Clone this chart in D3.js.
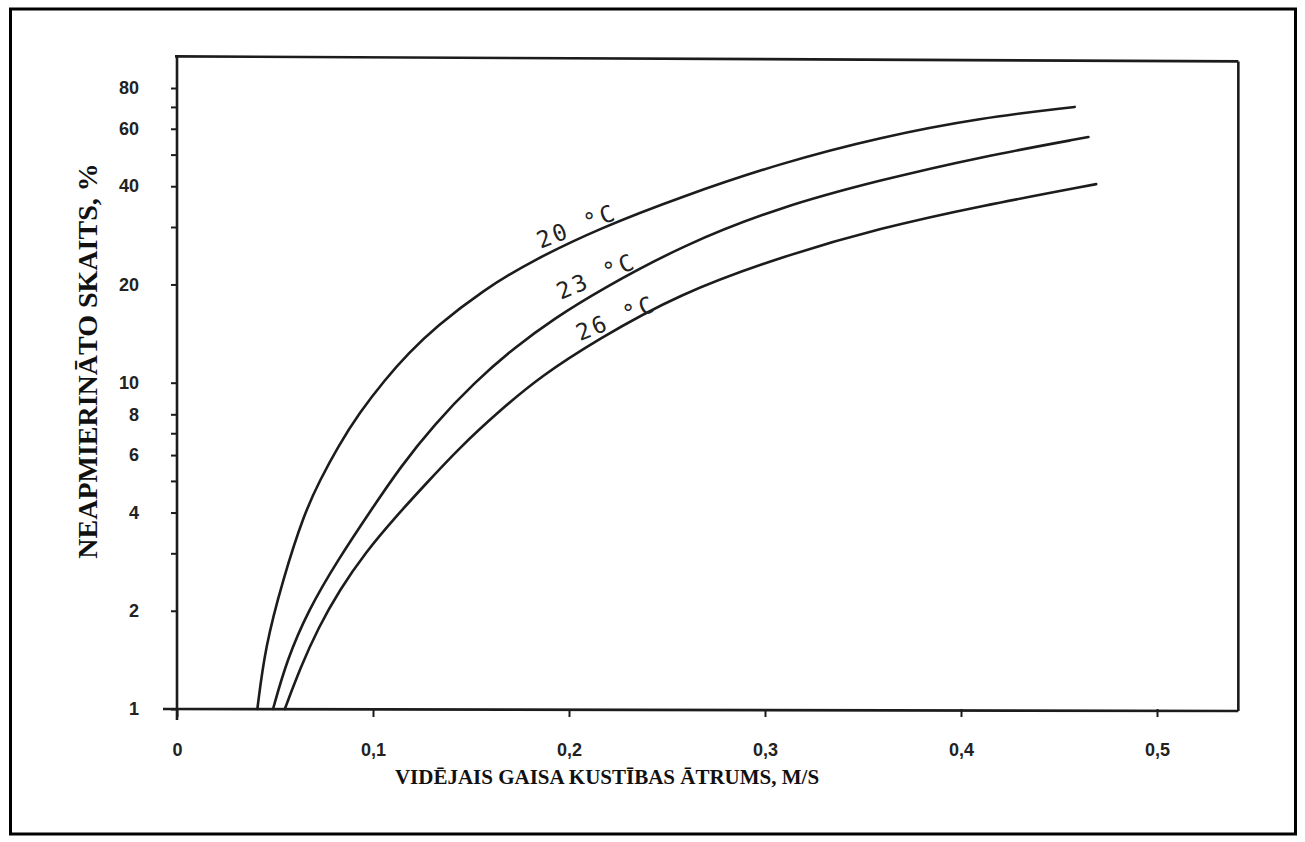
<!DOCTYPE html>
<html>
<head>
<meta charset="utf-8">
<script src="https://cdn.jsdelivr.net/npm/d3@7"></script>
<style>
  body { margin: 0; background: #fff; }
  svg { display: block; }
</style>
</head>
<body>
<svg id="chart" width="1305" height="842"></svg>
<script>
// Share of dissatisfied occupants (%) against mean air speed (m/s),
// one curve per room air temperature.
const speed20 = [0.041, 0.045, 0.054, 0.065, 0.073, 0.082, 0.093, 0.106, 0.118, 0.132, 0.156, 0.182, 0.216, 0.257, 0.308, 0.359, 0.410, 0.458];
const share20 = [1.00, 1.55, 2.49, 3.99, 5.03, 6.35, 8.08, 10.2, 12.3, 14.8, 19.2, 23.8, 29.8, 37.1, 47.1, 56.6, 64.8, 70.0];

const speed23 = [0.049, 0.056, 0.067, 0.082, 0.099, 0.114, 0.131, 0.152, 0.172, 0.193, 0.215, 0.258, 0.308, 0.359, 0.410, 0.465];
const share23 = [1.00, 1.41, 2.01, 2.86, 4.07, 5.52, 7.42, 10.05, 12.8, 15.8, 19.1, 26.4, 34.6, 41.8, 49.2, 56.6];

const speed26 = [0.055, 0.063, 0.072, 0.083, 0.096, 0.111, 0.127, 0.144, 0.165, 0.186, 0.214, 0.256, 0.308, 0.359, 0.410, 0.469];
const share26 = [1.00, 1.34, 1.77, 2.32, 3.01, 3.85, 4.90, 6.31, 8.25, 10.5, 13.5, 18.7, 24.3, 29.8, 34.8, 40.6];

const curveNames = ["20 °C", "23 °C", "26 °C"];

const xTickValues = [0, 0.1, 0.2, 0.3, 0.4, 0.5];
const yTickValues = [1, 2, 3, 4, 5, 6, 7, 8, 10, 20, 30, 40, 50, 60, 70, 80];
const yTickLabels = [1, 2, 4, 6, 8, 10, 20, 40, 60, 80];

const xTitle = "VIDĒJAIS GAISA KUSTĪBAS ĀTRUMS, M/S";
const yTitle = "NEAPMIERINĀTO SKAITS, %";

// ---- layout ----
const svg = d3.select("#chart");
const ink = "#1c1c1c";

svg.append("rect")
  .attr("x", 10.5).attr("y", 9).attr("width", 1285).attr("height", 825)
  .attr("fill", "#fff").attr("stroke", "#000").attr("stroke-width", 3);

const x = d3.scaleLinear().domain([0, 0.5]).range([177, 1157]);
const y = d3.scaleLog().domain([1, 80]).range([709, 88]);

const xRight = x(0.5415);
const yTop = y(100);

// plot frame
const frame = svg.append("g").attr("stroke", ink).attr("stroke-width", 2.6).attr("fill", "none");
frame.append("line").attr("x1", x(0)).attr("y1", yTop).attr("x2", x(0)).attr("y2", y(1) + 11);
frame.append("line").attr("x1", x(0) - 14).attr("y1", y(1)).attr("x2", xRight).attr("y2", y(1) + 2);
frame.append("line").attr("x1", x(0) - 2).attr("y1", yTop).attr("x2", xRight).attr("y2", yTop + 5);
frame.append("line").attr("x1", xRight).attr("y1", yTop + 5).attr("x2", xRight).attr("y2", y(1) + 2);

const tickFont = sel => sel
  .attr("fill", "#222")
  .style("font-family", "'Liberation Sans', Arial, sans-serif")
  .style("font-weight", "bold")
  .style("font-size", "18px");

// y axis
const yAxis = d3.axisLeft(y)
  .tickValues(yTickValues)
  .tickSize(6)
  .tickPadding(32)
  .tickFormat(d => yTickLabels.includes(d) ? String(d) : "");
const gy = svg.append("g").attr("transform", `translate(${x(0)},0)`).call(yAxis);
gy.select(".domain").remove();
gy.selectAll(".tick line").attr("stroke", ink).attr("stroke-width", 2);
gy.selectAll(".tick text").call(tickFont);

// x axis
const xAxis = d3.axisBottom(x)
  .tickValues(xTickValues)
  .tickSize(8)
  .tickFormat(d => d === 0 ? "0" : d3.format(".1f")(d).replace(".", ","));
const gx = svg.append("g").attr("transform", `translate(0,${y(1)})`).call(xAxis);
gx.select(".domain").remove();
gx.selectAll(".tick line").attr("stroke", ink).attr("stroke-width", 2);
gx.selectAll(".tick text").attr("y", 41).attr("dy", "0.35em").call(tickFont);

// axis titles
svg.append("text")
  .attr("x", 607).attr("y", 784)
  .attr("text-anchor", "middle")
  .attr("fill", "#111")
  .style("font-family", "'Liberation Serif', 'Times New Roman', serif")
  .style("font-weight", "bold")
  .style("font-size", "21px")
  .text(xTitle);

svg.append("text")
  .attr("transform", "translate(97,361) rotate(-90)")
  .attr("text-anchor", "middle")
  .attr("fill", "#111")
  .style("font-family", "'Liberation Serif', 'Times New Roman', serif")
  .style("font-weight", "bold")
  .style("font-size", "28px")
  .text(yTitle);

// curves
const series = [
  { name: curveNames[0], pts: d3.zip(speed20, share20) },
  { name: curveNames[1], pts: d3.zip(speed23, share23) },
  { name: curveNames[2], pts: d3.zip(speed26, share26) }
];

const line = d3.line()
  .x(d => x(d[0]))
  .y(d => y(d[1]))
  .curve(d3.curveBasis);

svg.append("g")
  .selectAll("path")
  .data(series)
  .join("path")
  .attr("d", d => line(d.pts))
  .attr("fill", "none")
  .attr("stroke", ink)
  .attr("stroke-width", 2.6)
  .attr("stroke-linecap", "round");

// curve labels, written along each curve
const labelSpot = [
  { speed: 0.204, lift: 13, angle: -21 },
  { speed: 0.214, lift: 16, angle: -23 },
  { speed: 0.224, lift: 11, angle: -22 }
];

series.forEach((s, i) => {
  const spot = labelSpot[i];
  const xs = s.pts.map(p => p[0]);
  const ys = s.pts.map(p => Math.log10(p[1]));
  const j = d3.bisectLeft(xs, spot.speed);
  const t = (spot.speed - xs[j - 1]) / (xs[j] - xs[j - 1]);
  const v = Math.pow(10, ys[j - 1] + t * (ys[j] - ys[j - 1]));
  const cx = x(spot.speed), cy = y(v) - spot.lift;
  svg.append("text")
    .attr("transform", `translate(${cx},${cy}) rotate(${spot.angle})`)
    .attr("text-anchor", "middle")
    .attr("dominant-baseline", "central")
    .attr("fill", "#222")
    .style("font-family", "'DejaVu Sans Mono', monospace")
    .style("font-size", "23px")
    .style("letter-spacing", "3px")
    .text(s.name);
});
</script>
</body>
</html>
